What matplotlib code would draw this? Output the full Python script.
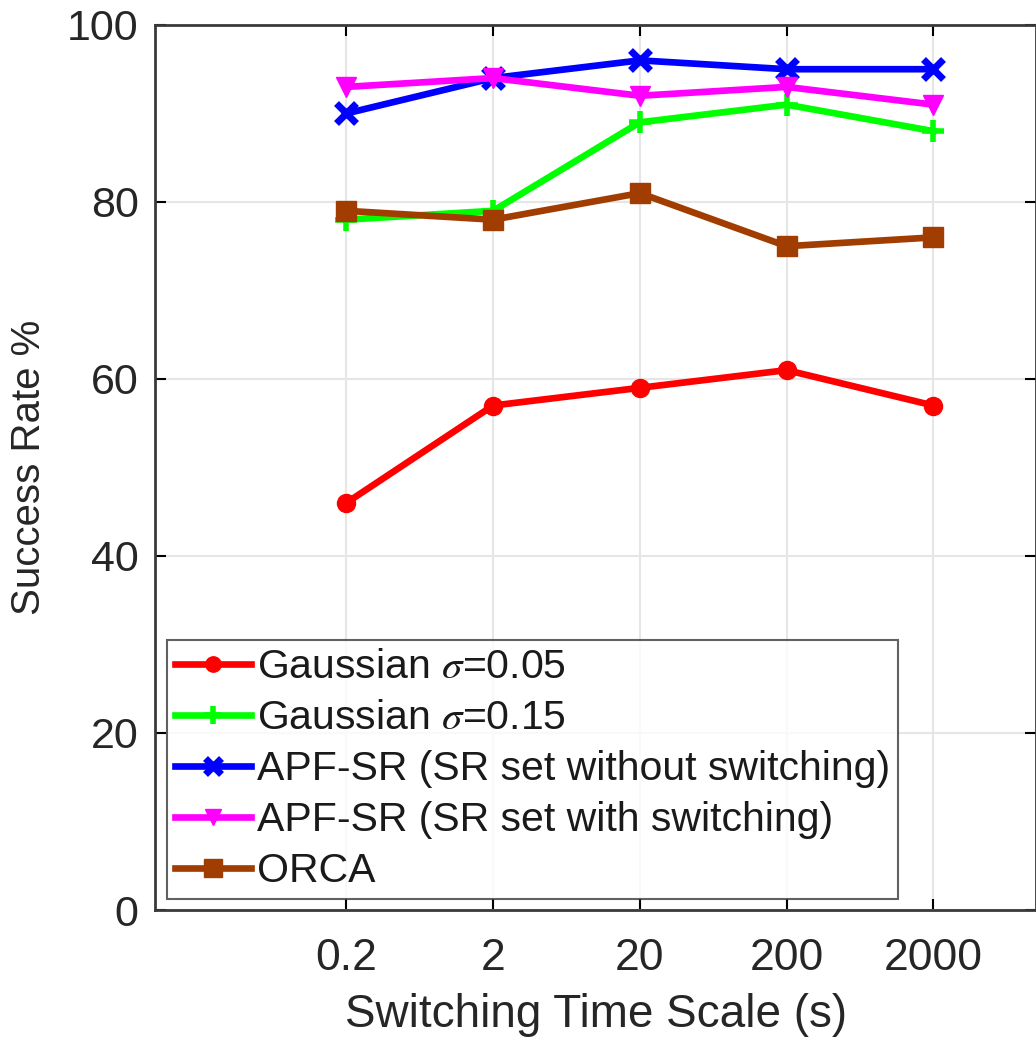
import numpy as np
import matplotlib.pyplot as plt

plt.rcParams['font.family'] = ['Liberation Sans', 'DejaVu Sans']
plt.rcParams['mathtext.fontset'] = 'stix'

# switching time scale (s)
time_scale = [0.2, 2, 20, 200, 2000]
tick_labels = ['0.2', '2', '20', '200', '2000']

# success rate %
gauss_005 = [46, 57, 59, 61, 57]
gauss_015 = [78, 79, 89, 91, 88]
apf_no_switch = [90, 94, 96, 95, 95]
apf_switch = [93, 94, 92, 93, 91]
orca = [79, 78, 81, 75, 76]

fig = plt.figure(figsize=(10.36, 10.40), dpi=100)
ax = fig.add_axes([0.150, 0.125, 0.850, 0.851])

lw = 4.8
ax.plot(time_scale, gauss_005, '-o', color=(1, 0, 0), lw=lw, ms=13,
        label=r'Gaussian $\sigma$=0.05')
ax.plot(time_scale, gauss_015, '-+', color=(0, 1, 0), lw=lw, ms=16, mew=4,
        label=r'Gaussian $\sigma$=0.15')
ax.plot(time_scale, apf_no_switch, '-x', color=(0, 0, 1), lw=lw, ms=14, mew=5,
        label='APF-SR (SR set without switching)')
ax.plot(time_scale, apf_switch, '-v', color=(1, 0, 1), lw=lw, ms=14,
        label='APF-SR (SR set with switching)')
ax.plot(time_scale, orca, '-s', color=(0.63, 0.24, 0.0), lw=lw, ms=15,
        label='ORCA')

ax.set_xscale('log')
ax.set_xlim(0.01, 10000)
ax.set_ylim(0, 100)
ax.set_xticks(time_scale)
ax.set_xticklabels(tick_labels)
ax.minorticks_off()
ax.set_yticks([0, 20, 40, 60, 80, 100])

ax.grid(True, color='#e6e6e6', lw=1.5)
ax.tick_params(direction='in', length=8, width=1.5, labelcolor='#262626',
               top=True, right=True)
ax.tick_params(axis='x', labelsize=32, pad=20)
ax.tick_params(axis='y', labelsize=31, pad=12)
for s in ax.spines.values():
    s.set_color('#3a3a3a')
    s.set_linewidth(2)

ax.set_xlabel('Switching Time Scale (s)', fontsize=33, color='#262626', labelpad=10)
ax.set_ylabel('Success Rate %', fontsize=29, color='#262626', labelpad=14)

leg = ax.legend(loc='lower left', fontsize=29.5, frameon=True, fancybox=False,
                edgecolor='#3a3a3a', handlelength=1.85, handletextpad=0.15,
                borderaxespad=0.28, labelspacing=0.32, borderpad=0.2,
                markerscale=0.85)
leg.get_frame().set_linewidth(1.5)
for t in leg.get_texts():
    t.set_color('#1a1a1a')

fig.savefig('out.png', dpi=100)
